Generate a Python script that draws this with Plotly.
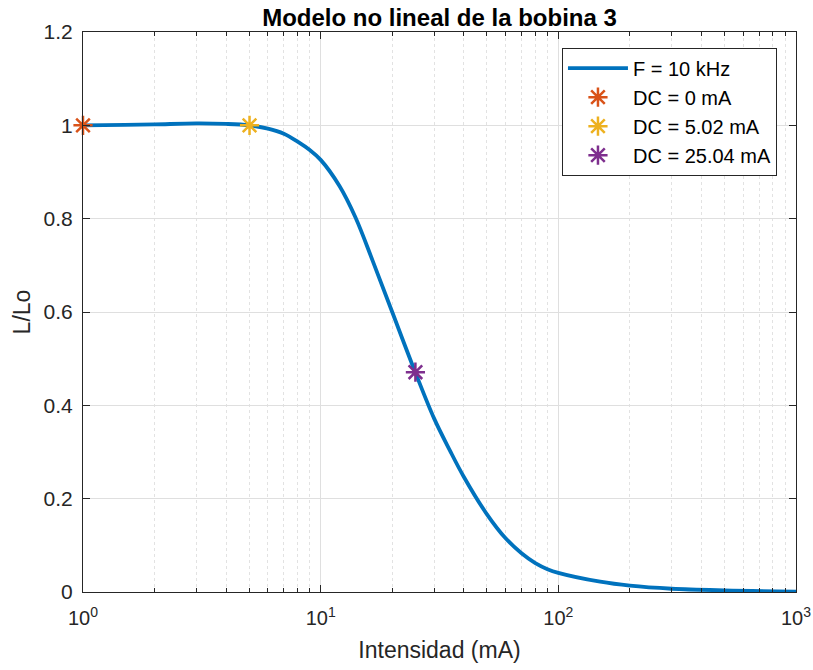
import plotly.graph_objects as go

# Curve (L/Lo vs current in mA)
intensidad = [1, 1.5, 2, 3, 4, 5, 6, 7, 8, 9, 10, 12, 14, 16.6, 20, 25, 30,
              35, 40, 50, 60, 70, 80, 90, 100, 150, 200, 300, 500, 1000]
l_lo = [1.000, 1.001, 1.002, 1.004, 1.003, 1.000, 0.993, 0.982, 0.965, 0.947,
        0.926, 0.870, 0.803, 0.708, 0.600, 0.471, 0.372, 0.303, 0.247, 0.167,
        0.115, 0.083, 0.062, 0.049, 0.041, 0.022, 0.0135, 0.007, 0.0035, 0.001]

dc_labels = ["DC = 0 mA", "DC = 5.02 mA", "DC = 25.04 mA"]
dc_x = [1, 5.02, 25.04]
dc_y = [1.0, 1.0, 0.471]
dc_colors = ["#D95319", "#EDB120", "#7E2F8E"]

x_tickvals = [1, 10, 100, 1000]
x_ticktext = ["10<sup>0</sup>", "10<sup>1</sup>", "10<sup>2</sup>", "10<sup>3</sup>"]
x_minor = [m * d for d in (1, 10, 100) for m in range(2, 10)]

FONT = "Liberation Sans, Arial, Helvetica, sans-serif"
AX = "#262626"

fig = go.Figure()
fig.add_trace(go.Scatter(
    x=intensidad, y=l_lo, mode="lines", name="F = 10 kHz",
    line=dict(color="#0072BD", width=3.8, shape="spline", smoothing=1.0),
))
for lab, xv, yv, c in zip(dc_labels, dc_x, dc_y, dc_colors):
    fig.add_trace(go.Scatter(
        x=[xv], y=[yv], mode="markers", name=lab, cliponaxis=False,
        marker=dict(symbol="asterisk-open", size=16, color=c,
                    line=dict(width=2.5, color=c)),
    ))

fig.update_layout(
    width=813, height=670,
    margin=dict(l=83, r=17, t=32, b=78, autoexpand=False),
    paper_bgcolor="white", plot_bgcolor="white",
    font=dict(family=FONT, color=AX),
    title=dict(text="<b>Modelo no lineal de la bobina 3</b>",
               x=0.5, xref="paper", xanchor="center",
               y=1 - 18 / 670, yref="container", yanchor="middle",
               font=dict(size=24, color="black", family=FONT)),
    legend=dict(x=0.9733, y=0.972, xanchor="right", yanchor="top",
                bordercolor=AX, borderwidth=1, bgcolor="white",
                font=dict(size=20, color="black", family=FONT),
                itemwidth=60, tracegroupgap=0),
    showlegend=True,
)
fig.update_xaxes(
    type="log", range=[0, 3], automargin=False,
    tickmode="array", tickvals=x_tickvals, ticktext=x_ticktext,
    ticks="inside", ticklen=7, tickcolor=AX, tickwidth=1,
    showline=True, linecolor=AX, linewidth=1, mirror="ticks",
    showgrid=True, gridcolor="#dfdfdf", gridwidth=1, zeroline=False,
    tickfont=dict(size=20, color=AX, family=FONT),
    ticklabelstandoff=8,
    minor=dict(tickmode="array", tickvals=x_minor, ticks="inside", ticklen=4,
               tickcolor=AX, showgrid=True, gridcolor="#e2e2e2", griddash="dot"),
    title=dict(text="Intensidad (mA)", font=dict(size=23, color=AX, family=FONT),
               standoff=13),
)
fig.update_yaxes(
    range=[0, 1.2], tick0=0, dtick=0.2, automargin=False,
    ticks="inside", ticklen=7, tickcolor=AX, tickwidth=1,
    showline=True, linecolor=AX, linewidth=1, mirror="ticks",
    showgrid=True, gridcolor="#dfdfdf", gridwidth=1, zeroline=False,
    tickfont=dict(size=21, color=AX, family=FONT),
    ticklabelstandoff=5,
    title=dict(text="L/Lo", font=dict(size=23, color=AX, family=FONT),
               standoff=6),
)

fig.write_html("out.html")
